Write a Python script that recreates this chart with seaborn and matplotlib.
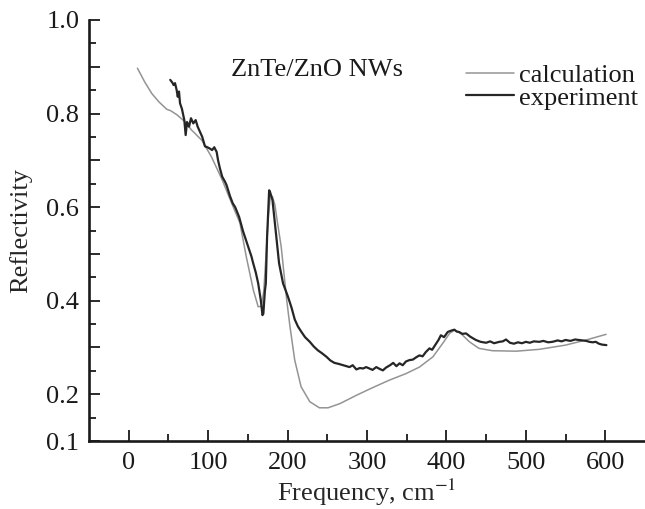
import numpy as np
import pandas as pd
import matplotlib
matplotlib.use("Agg")
import matplotlib.pyplot as plt
from matplotlib.ticker import FixedLocator, FixedFormatter
import seaborn as sns

# ---------------- data ----------------
calc_freq = [11, 20, 29, 38, 48, 53, 61, 71, 79, 92, 104, 117, 128, 140, 148,
             157, 163, 167, 170, 173, 176, 178.5, 181, 184, 187, 192, 199, 203,
             209, 217, 228, 240, 251, 266, 287, 307, 328, 349, 366, 383, 395,
             404, 410, 418, 429, 441, 458, 488, 517, 550, 576, 601]
calc_refl = [0.897, 0.868, 0.843, 0.825, 0.809, 0.806, 0.797, 0.782, 0.765,
             0.743, 0.708, 0.661, 0.615, 0.566, 0.494, 0.422, 0.387, 0.388,
             0.420, 0.500, 0.585, 0.626, 0.622, 0.605, 0.570, 0.515, 0.400,
             0.345, 0.273, 0.216, 0.184, 0.171, 0.171, 0.180, 0.198, 0.214,
             0.230, 0.244, 0.258, 0.280, 0.308, 0.330, 0.337, 0.330, 0.312,
             0.298, 0.293, 0.292, 0.296, 0.305, 0.316, 0.328]

exp_freq = [52.3, 55, 56.5, 58.3, 60.4, 61.7, 63.3, 64.6, 67, 70, 71.7, 73.4,
            75.9, 78.4, 81.3, 84.3, 86.8, 89.7, 92.6, 96, 99, 102.3, 105, 107.7,
            110.7, 112.5, 114.8, 117.7, 121, 123.2, 127.4, 131, 134, 139, 144,
            150.4, 154.6, 156.7, 160, 163, 166.3, 168.4, 169.5, 171.4, 172.6,
            174.2, 176.8, 178, 181, 185, 189.3, 194.3, 200.6, 205, 209, 213,
            217.5, 222, 228, 233, 238, 243, 249, 254, 259, 264, 270, 274, 278,
            282, 286.6, 291, 295, 299, 303, 307, 311.7, 316, 320, 324, 329, 333,
            337, 341, 345, 349, 353.5, 357.7, 362, 366, 370, 374, 378.6, 382,
            387, 390, 393, 397, 401.6, 406, 410, 413, 416, 420, 424.7, 430, 437,
            443, 450, 455, 460, 466.6, 471, 475, 480, 485, 490, 495, 500, 505,
            510, 517, 522, 528, 533.5, 540, 545, 550, 556, 562, 567, 572, 576,
            580, 584, 588, 592, 596, 601.4]
exp_refl = [0.872, 0.866, 0.861, 0.865, 0.850, 0.836, 0.847, 0.822, 0.810,
            0.786, 0.754, 0.782, 0.772, 0.790, 0.779, 0.786, 0.772, 0.761,
            0.750, 0.730, 0.728, 0.725, 0.722, 0.728, 0.718, 0.700, 0.683,
            0.665, 0.655, 0.647, 0.624, 0.608, 0.600, 0.579, 0.548, 0.515,
            0.494, 0.480, 0.460, 0.437, 0.401, 0.369, 0.372, 0.420, 0.437,
            0.536, 0.636, 0.632, 0.615, 0.551, 0.480, 0.437, 0.408, 0.385,
            0.360, 0.345, 0.333, 0.322, 0.312, 0.302, 0.294, 0.288, 0.280,
            0.272, 0.267, 0.265, 0.262, 0.260, 0.258, 0.262, 0.253, 0.256,
            0.255, 0.258, 0.255, 0.252, 0.258, 0.254, 0.251, 0.257, 0.262,
            0.267, 0.260, 0.266, 0.262, 0.270, 0.273, 0.274, 0.279, 0.283,
            0.281, 0.290, 0.298, 0.295, 0.308, 0.316, 0.326, 0.322, 0.333,
            0.336, 0.338, 0.334, 0.333, 0.329, 0.330, 0.323, 0.316, 0.312,
            0.310, 0.313, 0.309, 0.312, 0.313, 0.317, 0.310, 0.308, 0.311,
            0.309, 0.312, 0.310, 0.313, 0.312, 0.314, 0.311, 0.312, 0.315,
            0.313, 0.316, 0.314, 0.317, 0.316, 0.315, 0.314, 0.312, 0.311,
            0.312, 0.308, 0.306, 0.305]

series_labels = ["calculation", "experiment"]
x_major = [0, 100, 200, 300, 400, 500, 600]
x_minor = [50, 150, 250, 350, 450, 550]
y_major = [0.1, 0.2, 0.3, 0.4, 0.5, 0.6, 0.7, 0.8, 0.9, 1.0]
y_major_labels = ["0.1", "0.2", "", "0.4", "", "0.6", "", "0.8", "", "1.0"]
y_minor = [0.15, 0.25, 0.35, 0.45, 0.55, 0.65, 0.75, 0.85, 0.95]
annotation = "ZnTe/ZnO NWs"

df_calc = pd.DataFrame({"freq": calc_freq, "refl": calc_refl})
df_exp = pd.DataFrame({"freq": exp_freq, "refl": exp_refl})

# ---------------- style ----------------
sns.set_style("ticks")
plt.rcParams["font.family"] = ["Liberation Serif", "DejaVu Serif"]
plt.rcParams["mathtext.fontset"] = "stix"
FS = 19

fig = plt.figure(figsize=(6.45, 5.09), dpi=100)
ax = fig.add_axes([89 / 645, 68 / 509, 556 / 645, 421 / 509])

sns.lineplot(data=df_calc, x="freq", y="refl", ax=ax, color="#949494",
             linewidth=1.1, estimator=None, sort=False, label=series_labels[0])
sns.lineplot(data=df_exp, x="freq", y="refl", ax=ax, color="#262626",
             linewidth=1.6, estimator=None, sort=False, label=series_labels[1])

ax.set_xlim(-50, 650)
ax.set_ylim(0.1, 1.0)
sns.despine(ax=ax)
for s in ("left", "bottom"):
    ax.spines[s].set_linewidth(1.9)
    ax.spines[s].set_color("#1a1a1a")

ax.xaxis.set_major_locator(FixedLocator(x_major))
ax.xaxis.set_minor_locator(FixedLocator(x_minor))
ax.yaxis.set_major_locator(FixedLocator(y_major))
ax.yaxis.set_major_formatter(FixedFormatter(y_major_labels))
ax.yaxis.set_minor_locator(FixedLocator(y_minor))

ax.tick_params(axis="both", which="both", direction="in", colors="#1a1a1a",
               width=1.3, labelsize=FS)
ax.tick_params(axis="x", which="major", length=8, pad=8)
ax.tick_params(axis="x", which="minor", length=5)
ax.tick_params(axis="y", which="major", length=8, pad=7)
ax.tick_params(axis="y", which="minor", length=5)

ax.set_xlabel(r"Frequency, cm$^{-1}$", fontsize=FS)
ax.set_ylabel("Reflectivity", fontsize=FS)
ax.xaxis.set_label_coords(0.5, -0.085)
ax.yaxis.set_label_coords(-0.102, 0.5)

ax.text(129, 0.893, annotation, fontsize=FS, ha="left", va="center",
        color="#1a1a1a")

leg = ax.legend(loc="upper left", bbox_to_anchor=(466 / 645, 1 - 64 / 509),
                bbox_transform=fig.transFigure, frameon=False, fontsize=FS,
                handlelength=1.8, handletextpad=0.2, labelspacing=-0.05,
                borderpad=0, borderaxespad=0)
for t in leg.get_texts():
    t.set_color("#1a1a1a")

fig.savefig("out.png", dpi=100)
